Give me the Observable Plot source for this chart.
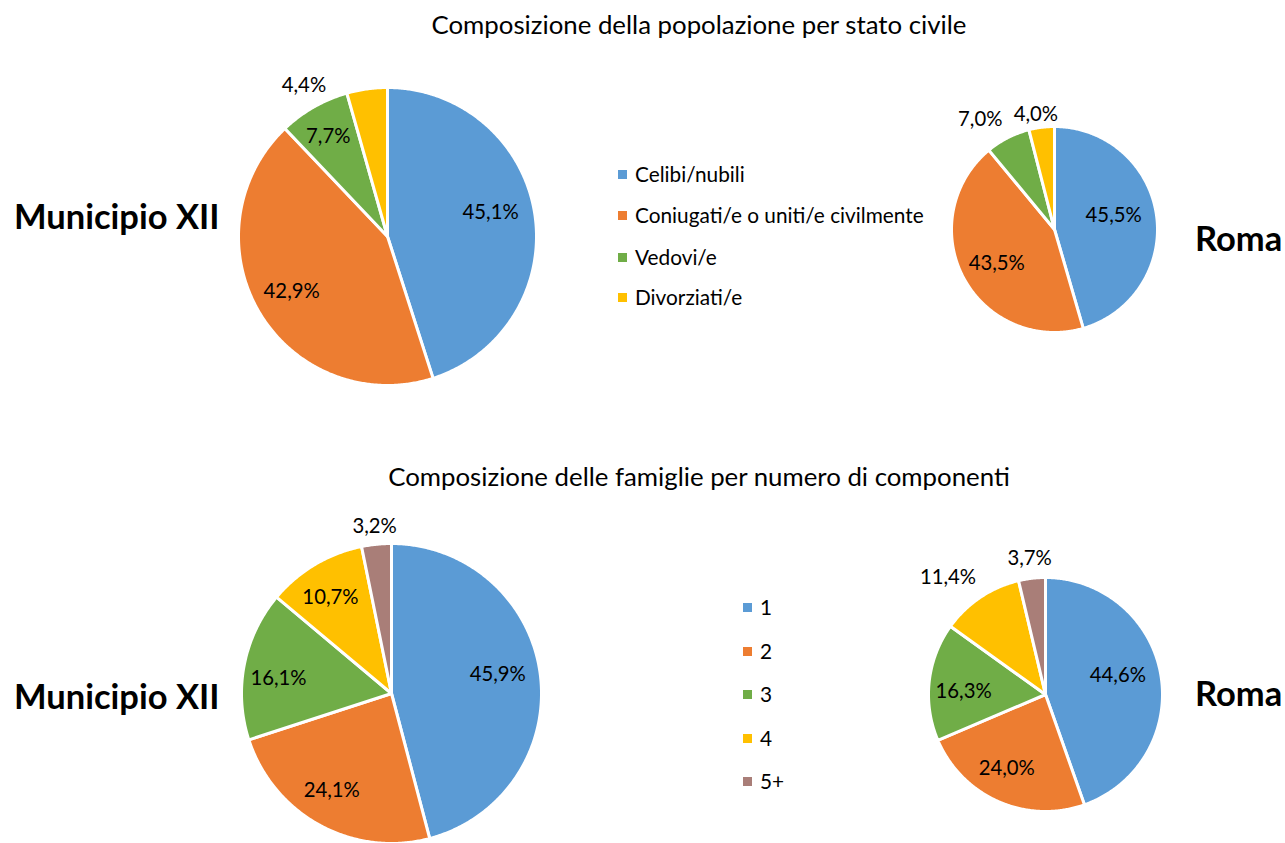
<!DOCTYPE html>
<html><head><meta charset="utf-8">
<script src="https://cdn.jsdelivr.net/npm/d3@7"></script>
<script src="https://cdn.jsdelivr.net/npm/@observablehq/plot@0.6"></script>
<style>
body{margin:0;background:#fff;font-family:Lato,sans-serif;color:#000}
#root{position:relative;width:1285px;height:843px;overflow:hidden;background:#fff}
.abs{position:absolute;white-space:nowrap;line-height:1}
.center{transform:translate(-50%,-50%)}
.vmid{transform:translateY(-50%)}
.title{font-size:25.8px}
.place{font-size:34.5px;font-weight:700}
.leg{font-size:20.8px}
.sw{position:absolute;width:9px;height:9px}
</style></head><body><div id="root"></div>
<script>
// ---- data ----
const statoCategories = ["Celibi/nubili", "Coniugati/e o uniti/e civilmente", "Vedovi/e", "Divorziati/e"];
const statoMunicipio = [45.1, 42.9, 7.7, 4.4];
const statoRoma = [45.5, 43.5, 7.0, 4.0];
const famCategories = ["1", "2", "3", "4", "5+"];
const famMunicipio = [45.9, 24.1, 16.1, 10.7, 3.2];
const famRoma = [44.6, 24.0, 16.3, 11.4, 3.7];
const titles = ["Composizione della popolazione per stato civile", "Composizione delle famiglie per numero di componenti"];
const places = ["Municipio XII", "Roma"];

// ---- styles ----
const colors = ["#5B9BD5", "#ED7D31", "#70AD47", "#FFC000", "#A97E78"];
const M = 70; // room for outside labels
const pies = [
  {cats: statoCategories, vals: statoMunicipio, cx: 387, cy: 236, r: 149, lr: [0.71, 0.74, 0.78, 1.16], ls: [-4, 1, -1, -21]},
  {cats: statoCategories, vals: statoRoma, cx: 1054, cy: 229, r: 103, lr: [0.59, 0.65, 1.29, 1.13], ls: [-5, -2.5, -7, -2]},
  {cats: famCategories, vals: famMunicipio, cx: 391, cy: 693, r: 150, lr: [0.72, 0.76, 0.76, 0.76, 1.12], ls: [-3, 3, -3.4, -1.6, 0]},
  {cats: famCategories, vals: famRoma, cx: 1045, cy: 694, r: 117, lr: [0.64, 0.71, 0.70, 1.30, 1.17], ls: [-5, 4, -4, -6, 0]}
];

const root = document.getElementById("root");
const fmt = (v) => d3.format(".1f")(v).replace(".", ",") + "%";

function pie(p) {
  const total = d3.sum(p.vals);
  const rows = [], labels = [];
  let acc = 0;
  p.vals.forEach((v, i) => {
    const cat = p.cats[i];
    const a0 = acc / total * 2 * Math.PI, a1 = (acc + v) / total * 2 * Math.PI;
    acc += v;
    const n = Math.max(2, Math.ceil((a1 - a0) / (Math.PI / 360)));
    rows.push({cat, x: 0, y: 0});
    for (let k = 0; k <= n; k++) {
      const a = a0 + (a1 - a0) * k / n;
      rows.push({cat, x: Math.sin(a), y: Math.cos(a)});
    }
    rows.push({cat, x: 0, y: 0});
    const am = (a0 + a1) / 2 + p.ls[i] * Math.PI / 180;
    labels.push({x: p.lr[i] * Math.sin(am), y: p.lr[i] * Math.cos(am), text: fmt(v)});
  });
  const e = 1 + M / p.r, size = 2 * (p.r + M);
  return Plot.plot({
    width: size, height: size, margin: 0,
    x: {domain: [-e, e], axis: null},
    y: {domain: [-e, e], axis: null},
    color: {domain: p.cats, range: colors.slice(0, p.cats.length)},
    style: {background: "transparent", fontFamily: "Lato", overflow: "visible"},
    marks: [
      Plot.line(rows, {x: "x", y: "y", z: "cat", fill: "cat", stroke: "white", strokeWidth: 3, strokeLinejoin: "miter", strokeMiterlimit: 2}),
      Plot.text(labels, {x: "x", y: "y", text: "text", fontSize: 20.3, fill: "#000"})
    ]
  });
}

pies.forEach((p) => {
  const d = document.createElement("div");
  d.className = "abs";
  const size = 2 * (p.r + M);
  d.style.left = (p.cx - p.r - M) + "px";
  d.style.top = (p.cy - p.r - M) + "px";
  d.style.width = size + "px";
  d.appendChild(pie(p));
  root.appendChild(d);
});

function addText(txt, cls, x, y) {
  const d = document.createElement("div");
  d.className = "abs " + cls;
  d.style.left = x + "px";
  d.style.top = y + "px";
  d.textContent = txt;
  root.appendChild(d);
  return d;
}

addText(titles[0], "title center", 699, 25);
addText(titles[1], "title center", 699, 477);
addText(places[0], "place vmid", 14, 216);
addText(places[1], "place vmid", 1195, 238);
addText(places[0], "place vmid", 14, 696);
addText(places[1], "place vmid", 1195, 693);

function legend(cats, x, ys) {
  cats.forEach((c, i) => {
    const s = document.createElement("div");
    s.className = "sw";
    s.style.left = x + "px";
    s.style.top = (ys[i] - 4.5) + "px";
    s.style.background = colors[i];
    root.appendChild(s);
    addText(c, "leg vmid", x + 17, ys[i]);
  });
}
legend(statoCategories, 618, [174, 215, 257, 297]);
legend(famCategories, 743, [607, 651, 694, 738, 781]);
</script></body></html>
